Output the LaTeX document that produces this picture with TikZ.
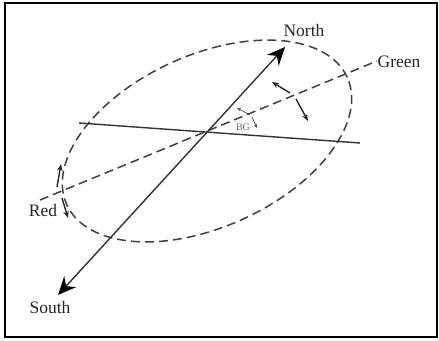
\documentclass[tikz,border=0pt]{standalone}
\usepackage{fontspec}
\setmainfont{Liberation Serif}
\usetikzlibrary{arrows.meta,positioning}

\begin{document}
\begin{tikzpicture}[x=1pt,y=1pt,
		axisline/.style={line width=1.4pt,draw=black!80},
		dashline/.style={line width=1.5pt,draw=black!75,dash pattern=on 9pt off 5pt},
		turnarrow/.style={line width=1.4pt,draw=black!85,-{Stealth[length=7pt,width=5.5pt]}},
		tinyarrow/.style={line width=0.7pt,draw=black!70,-{Stealth[length=4pt,width=3pt]}},
		bigtip/.style={{Stealth[length=18pt,width=16pt,inset=6pt,black]}-{Stealth[length=18pt,width=16pt,inset=6pt,black]}},
		lbl/.style={font=\fontsize{17.5}{19}\selectfont,text=black!85,inner sep=1pt}]
			\useasboundingbox (0,0) rectangle (439,340);
			% ---------------- Frame ----------------
			\draw[line width=1.8pt] (5,3) rectangle (437,337);

			% Points
			\coordinate (O) at (207,207);
			\coordinate (N) at (285,293);
			\coordinate (S) at (58,45);
			\coordinate (G1) at (40,140);
			\coordinate (G2) at (377,279);
			\coordinate (L1) at (79,217);
			\coordinate (L2) at (360,197);

			% Ellipse
			\draw[dashline] (207,199) ellipse[x radius=154,y radius=86,rotate=24.4];

			% Lines
			\draw[dashline] (G1) -- (G2);
			\draw[axisline] (L1) -- (L2);
			\draw[axisline,bigtip] (S) -- (N);

			% Labels
			\node[lbl] (north) at (304,309) {North};
			\node[lbl] (south) at (50,32) {South};
			\node[lbl] (green) at (399,278) {Green};
			\node[lbl] (red) at (43,129) {Red};
			\node[font=\fontsize{10}{11}\selectfont,text=black!60,inner sep=1pt] (bg) at (243,213) {BG};

			% ---------------- Rotation arrows ----------------
			\coordinate (Ga) at (290,247);
			\coordinate (Gb) at (296,241);
			\coordinate (Ra) at (57,153);
			\coordinate (Rb) at (62,142);
			\coordinate (Ba) at (250,225);
			\coordinate (Bb) at (252,223);
			\coordinate (GaT) at (272,258);
			\coordinate (GbT) at (308,219);
			\coordinate (RaT) at (61,176);
			\coordinate (RbT) at (68,122);
			\coordinate (BaT) at (237,232);
			\coordinate (BbT) at (257,212);
			\draw[turnarrow] (Ga) -- (GaT);
			\draw[turnarrow] (Gb) -- (GbT);
			\draw[turnarrow] (Ra) -- (RaT);
			\draw[turnarrow] (Rb) -- (RbT);
			\draw[tinyarrow] (Ba) -- (BaT);
			\draw[tinyarrow] (Bb) -- (BbT);
		\end{tikzpicture}
\end{document}
